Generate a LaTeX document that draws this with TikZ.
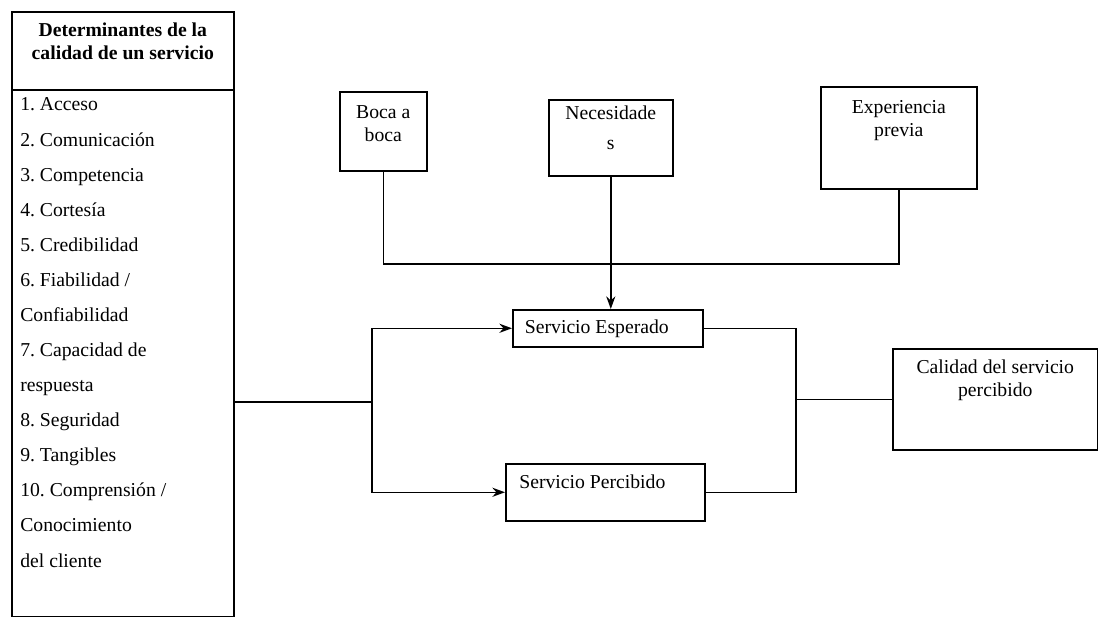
\documentclass[tikz,border=0pt]{standalone}
\usepackage{fontspec}
\setmainfont{Liberation Serif}
\frenchspacing
\usetikzlibrary{
		positioning,
		arrows.meta
	}
\tikzset{
		>={Stealth[length=9pt, width=6.5pt]}
	}

\begin{document}
\begin{tikzpicture}[x=0.025cm, y=-0.025cm,
					box/.style={draw, line width=1.1pt, rectangle, anchor=north west, inner sep=0pt},
					txt/.style={font=\fontsize{14}{16.4}\selectfont, align=center, inner sep=0pt, anchor=north},
					item/.style={font=\fontsize{14}{16.4}\selectfont, inner sep=0pt, anchor=base west},
					link/.style={line width=1pt}]
		\useasboundingbox (0,0) rectangle (1098,617);
		% determinantes (left column)
		\node[box, minimum width=5.55cm, minimum height=15.125cm] (det) at (11,11) {};
		\node[box, minimum width=5.55cm, minimum height=1.95cm] (head) at (11,11) {};
		\node[txt, font=\fontsize{14}{16.4}\selectfont\bfseries, below=8.5pt of head.north] (headt) {Determinantes de la\\calidad de un servicio};
		\foreach \txt [count=\i from 0] in {1. Acceso, 2. Comunicación, 3. Competencia, 4. Cortesía, 5. Credibilidad, 6. Fiabilidad /, Confiabilidad, 7. Capacidad de, respuesta, 8. Seguridad, 9. Tangibles, 10. Comprensión /, Conocimiento, del cliente}
			\node[item] (item\i) at (20, 111+35.08*\i) {\txt};
		% factores
		\node[box, minimum width=2.175cm, minimum height=1.975cm] (boca) at (339,91) {};
		\node[txt, below=10pt of boca.north] (bocat) {Boca a\\boca};
		\node[box, minimum width=3.1cm, minimum height=1.9cm] (nec) at (548,99) {};
		\node[txt, font=\fontsize{14}{21}\selectfont, below=5pt of nec.north] (nect) {Necesidade\\s};
		\node[box, minimum width=3.9cm, minimum height=2.55cm] (exp) at (820,86) {};
		\node[txt, below=10pt of exp.north] (expt) {Experiencia\\previa};
		% servicio
		\node[box, minimum width=4.75cm, minimum height=0.925cm] (esp) at (512,309) {};
		\node[txt, anchor=west, right=9pt of esp.west] (espt) {Servicio Esperado};
		\node[box, minimum width=4.975cm, minimum height=1.425cm] (perc) at (505,463) {};
		\node[txt, anchor=north west, below right=8.5pt and 10pt of perc.north west] (perct) {Servicio Percibido};
		\node[box, minimum width=5.125cm, minimum height=2.525cm] (cal) at (892,348) {};
		\node[txt, below=8.5pt of cal.north] (calt) {Calidad del servicio\\percibido};
		% conectores
		\coordinate (join) at (609,264);
		\coordinate (split) at (372,402);
		\path (cal.west) ++(-96,0) coordinate (merge);
		\draw[link] (boca.south) -- (boca.south |- join) -- (exp.south |- join) -- (exp.south);
		\draw[link, ->] (nec.south) -- (nec.south |- esp.north);
		\draw[link] (det.east |- split) -- (split);
		\draw[link, ->] (split) |- (esp.west);
		\draw[link, ->] (split) |- (perc.west);
		\draw[link] (esp.east) -| (merge);
		\draw[link] (perc.east) -| (merge);
		\draw[link] (merge) -- (cal.west);
	\end{tikzpicture}
\end{document}
